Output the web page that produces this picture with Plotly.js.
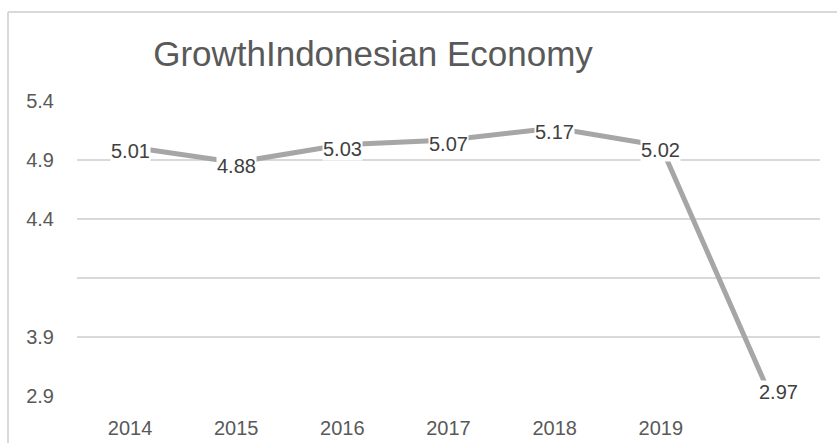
<!DOCTYPE html>
<html>
<head>
<meta charset="utf-8">
<script src="https://cdn.plot.ly/plotly-3.0.1.min.js"></script>
<style>
  html, body { margin: 0; padding: 0; background: #ffffff; }
  #chart { width: 837px; height: 443px; }
</style>
</head>
<body>
<div id="chart"></div>
<script>
// ---- data ----
const years = [2014, 2015, 2016, 2017, 2018, 2019, 2020];
const yearLabels = ['2014', '2015', '2016', '2017', '2018', '2019', ''];
const growth = [5.01, 4.88, 5.03, 5.07, 5.17, 5.02, 2.97];
const growthLabels = ['5.01', '4.88', '5.03', '5.07', '5.17', '5.02', '2.97'];
const yTickVals = [2.9, 3.4, 3.9, 4.4, 4.9, 5.4];
const yTickText = ['2.9', '3.9', '', '4.4', '4.9', '5.4'];
const chartTitle = 'GrowthIndonesian Economy';

// ---- layout geometry ----
const W = 837, H = 443;
const mL = 77, mR = 17, mT = 101, mB = 47;
const plotW = W - mL - mR, plotH = H - mT - mB;
const px = v => (v - mL) / plotW;          // pixel x -> paper x
const py = v => (H - mB - v) / plotH;      // pixel y -> paper y

const trace = {
  x: years,
  y: growth,
  type: 'scatter',
  mode: 'lines',
  line: { color: '#a6a6a6', width: 5 },
  hoverinfo: 'skip',
  showlegend: false
};

const labelAnnotations = years.map((yr, i) => ({
  x: yr,
  y: growth[i],
  xref: 'x',
  yref: 'y',
  text: growthLabels[i],
  showarrow: false,
  bgcolor: '#ffffff',
  borderpad: 0,
  yshift: -4,
  xshift: i === years.length - 1 ? 12 : 0,
  font: { family: 'Liberation Sans, Arial, sans-serif', size: 20, color: '#404040' }
}));

const layout = {
  width: W,
  height: H,
  margin: { l: mL, r: mR, t: mT, b: mB, pad: 0 },
  paper_bgcolor: '#ffffff',
  plot_bgcolor: '#ffffff',
  title: {
    text: chartTitle,
    x: px(373),
    xref: 'paper',
    xanchor: 'center',
    y: 1 - 54 / H,
    yref: 'container',
    yanchor: 'middle',
    font: { family: 'Liberation Sans, Arial, sans-serif', size: 35, color: '#595959' }
  },
  xaxis: {
    type: 'linear',
    range: [2013.5, 2020.5],
    tickvals: years,
    ticktext: yearLabels,
    showgrid: false,
    zeroline: false,
    showline: false,
    ticks: '',
    ticklabelstandoff: 18,
    tickfont: { family: 'Liberation Sans, Arial, sans-serif', size: 20, color: '#595959' },
    fixedrange: true
  },
  yaxis: {
    range: [2.9, 5.4],
    tickvals: yTickVals,
    ticktext: yTickText,
    showgrid: true,
    gridcolor: '#d9d9d9',
    gridwidth: 1.5,
    zeroline: false,
    showline: false,
    ticks: '',
    ticklabelstandoff: 22,
    tickfont: { family: 'Liberation Sans, Arial, sans-serif', size: 20, color: '#595959' },
    fixedrange: true
  },
  shapes: [
    { type: 'line', xref: 'paper', yref: 'paper', layer: 'below',
      x0: px(8), x1: px(8), y0: py(12), y1: py(H + 5),
      line: { color: '#d9d9d9', width: 2 } },
    { type: 'line', xref: 'paper', yref: 'paper', layer: 'below',
      x0: px(8), x1: px(W + 5), y0: py(12), y1: py(12),
      line: { color: '#d9d9d9', width: 2 } }
  ],
  annotations: labelAnnotations
};

Plotly.newPlot('chart', [trace], layout, { displayModeBar: false, staticPlot: true });
</script>
</body>
</html>
